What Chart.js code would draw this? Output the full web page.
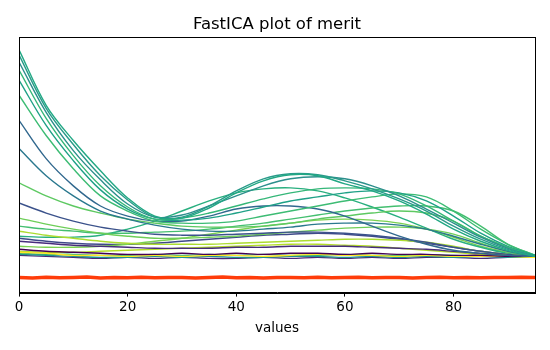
<!DOCTYPE html>
<html>
<head>
<meta charset="utf-8">
<script src="https://cdn.jsdelivr.net/npm/chart.js@4"></script>
<style>
  html, body { margin: 0; padding: 0; background: #fff; }
  #wrap { width: 550px; height: 350px; }
</style>
</head>
<body>
<div id="wrap"><canvas id="chart"></canvas></div>
<script>
// sample positions along the "values" axis
const xs = [0, 5, 10, 15, 20, 25, 30, 35, 40, 45, 50, 55, 60, 65, 70, 75, 80, 85, 90, 95];

// component curves (merit per value)
const comp01 = [205, 150, 115, 85, 58, 40, 38, 48, 63, 75, 81, 80, 72, 65, 55, 42, 27, 15, 6, 0];
const comp02 = [200, 147, 111, 80, 56, 39, 39, 50, 65, 77, 82, 81, 75, 67, 57, 45, 30, 17, 7, 0];
const comp03 = [193, 143, 105, 76, 52, 39, 41, 50, 60, 70, 77, 79, 77, 70, 60, 47, 33, 19, 8, 0];
const comp04 = [185, 137, 100, 70, 49, 37, 38, 43, 50, 57, 63, 67, 68, 67, 62, 50, 35, 20, 9, 0];
const comp05 = [175, 130, 95, 66, 47, 37, 36, 38, 43, 49, 55, 59, 63, 65, 63, 55, 40, 23, 10, 1];
const comp06 = [160, 120, 87, 60, 45, 35, 33, 33, 35, 40, 45, 50, 55, 59, 62, 59, 45, 27, 12, 1];
const comp07 = [135, 97, 70, 50, 40, 35, 35, 40, 47, 50, 50, 47, 40, 30, 20, 12, 6, 3, 1, 0];
const comp08 = [107, 80, 60, 45, 37, 31, 27, 25, 25, 27, 29, 32, 33, 33, 31, 27, 20, 12, 5, 0];
const comp09 = [73, 60, 50, 43, 37, 33, 30, 29, 29, 30, 33, 37, 40, 43, 45, 43, 35, 20, 9, 1];
const comp10 = [53, 43, 35, 29, 25, 22, 21, 21, 22, 23, 24, 24, 23, 21, 18, 14, 9, 5, 2, 0];
const comp11 = [38, 32, 27, 23, 20, 18, 18, 19, 20, 22, 24, 26, 28, 29, 29, 27, 22, 13, 5, 0];
const comp12 = [25, 21, 18, 15, 13, 12, 12, 12, 13, 14, 15, 16, 17, 17, 16, 14, 10, 5, 2, 0];
const comp13 = [15, 13, 11, 10, 9, 8, 8, 8, 9, 9, 10, 10, 10, 9, 8, 7, 5, 3, 1, 0];
const comp14 = [7, 5, 4, 3, 2, 2, 3, 2, 3, 2, 3, 3, 2, 3, 2, 2, 1, 1, 0, 0];
const comp15 = [4, 3, 1, 1, 0, 1, 0, 1, 1, 0, 1, 2, 1, 1, 0, 1, 0, 0, 0, -1];
const comp16 = [2, 1, 0, -1, -1, 0, -1, 0, -1, -1, 0, 0, -1, 0, -1, 0, -1, 0, -1, -1];
const comp17 = [1, 0, -1, -2, -1, -2, -1, -2, -2, -1, -2, -1, -2, -1, -2, -1, -1, -2, -1, -1];
const comp18 = [3, 2, 2, 1, 1, 2, 1, 2, 1, 2, 1, 1, 2, 1, 1, 1, 1, 0, 0, 0];
const comp19 = [30, 27, 25, 23, 23, 24, 25, 27, 30, 33, 37, 41, 45, 48, 50, 50, 45, 30, 12, 1];
const comp20 = [20, 19, 19, 21, 27, 35, 45, 55, 63, 67, 68, 65, 58, 49, 39, 28, 17, 9, 3, 0];
const comp21 = [10, 9, 9, 10, 12, 15, 18, 22, 26, 30, 33, 36, 37, 36, 33, 27, 19, 10, 4, 0];
const comp22 = [18, 15, 13, 12, 12, 13, 15, 17, 19, 21, 22, 23, 22, 20, 17, 13, 9, 5, 2, 0];
const comp23 = [5, 4, 4, 5, 6, 7, 8, 9, 10, 11, 12, 12, 11, 10, 8, 6, 4, 2, 1, 0];

// the flat outlier component
const redX = [0, 2.5, 5, 7.5, 10, 12.5, 15, 17.5, 20, 22.5, 25, 27.5, 30, 32.5, 35, 37.5, 40, 42.5, 45, 47.5,
              50, 52.5, 55, 57.5, 60, 62.5, 65, 67.5, 70, 72.5, 75, 77.5, 80, 82.5, 85, 87.5, 90, 92.5, 95];
const redY = [-21, -21.5, -20.8, -21.3, -21, -20.6, -21.4, -21, -21.2, -20.7, -21.3, -21, -20.9, -21.4, -21, -20.6,
              -21.2, -21, -21.5, -20.9, -21.1, -21.3, -20.8, -21.2, -21, -20.7, -21.3, -21.1, -20.9, -21.4, -21,
              -20.8, -21.2, -21, -21.3, -20.9, -21.1, -20.8, -21];

const comps = [comp01, comp02, comp03, comp04, comp05, comp06, comp07, comp08, comp09, comp10, comp11,
               comp12, comp13, comp14, comp15, comp16, comp17, comp18, comp19, comp20, comp21, comp22, comp23];
const compColors = ['#22a884', '#2a9b8a', '#2c8f8c', '#35b779', '#1fa187', '#3dbc74', '#31688e', '#2a788e',
                    '#5ec962', '#3b528b', '#6ece58', '#addc30', '#472d7b', '#440154', '#fde725', '#21918c',
                    '#482878', '#35b779', '#44bf70', '#29af7f', '#7ad151', '#3e4989', '#b5de2b'];

const datasets = comps.map((ys, i) => ({
  data: xs.map((x, j) => ({ x: x, y: ys[j] })),
  borderColor: compColors[i],
  borderWidth: 1.4,
  pointRadius: 0,
  tension: 0.35,
  fill: false
}));
datasets.push({
  data: redX.map((x, j) => ({ x: x, y: redY[j] })),
  borderColor: '#ff3c0a',
  borderWidth: 3.5,
  pointRadius: 0,
  tension: 0,
  fill: false
});

// box around the plot area, like a matplotlib frame
const frame = {
  id: 'frame',
  afterDraw(chart) {
    const a = chart.chartArea, c = chart.ctx;
    c.save();
    c.strokeStyle = '#000';
    c.lineWidth = 1;
    c.strokeRect(Math.round(a.left) + 0.5, Math.round(a.top) + 0.5,
                 Math.round(a.right - a.left), Math.round(a.bottom - a.top));
    c.restore();
  }
};

new Chart(document.getElementById('chart'), {
  type: 'line',
  data: { datasets: datasets },
  plugins: [frame],
  options: {
    responsive: true,
    maintainAspectRatio: false,
    animation: false,
    layout: { padding: { left: 19, right: 15, top: 4, bottom: 13 } },
    plugins: {
      legend: { display: false },
      tooltip: { enabled: false },
      title: {
        display: true,
        text: 'FastICA plot of merit',
        color: '#000',
        font: { family: 'DejaVu Sans', size: 16.5, weight: 'normal' },
        padding: { top: 11, bottom: 2 }
      }
    },
    scales: {
      x: {
        type: 'linear',
        min: 0,
        max: 95,
        afterBuildTicks: (axis) => {
          axis.ticks = axis.ticks.filter(t => t.value % 20 === 0);
        },
        ticks: {
          stepSize: 20,
          color: '#000',
          font: { family: 'DejaVu Sans', size: 13.5 },
          padding: 3,
          maxRotation: 0
        },
        grid: { display: true, drawOnChartArea: false, drawTicks: true, tickLength: 4, color: '#000' },
        border: { display: true, color: '#000', width: 1 },
        title: {
          display: true,
          text: 'values',
          color: '#000',
          font: { family: 'DejaVu Sans', size: 13.5 },
          padding: { top: 2, bottom: 0 }
        }
      },
      y: {
        display: false,
        min: -36,
        max: 218
      }
    }
  }
});
</script>
</body>
</html>
